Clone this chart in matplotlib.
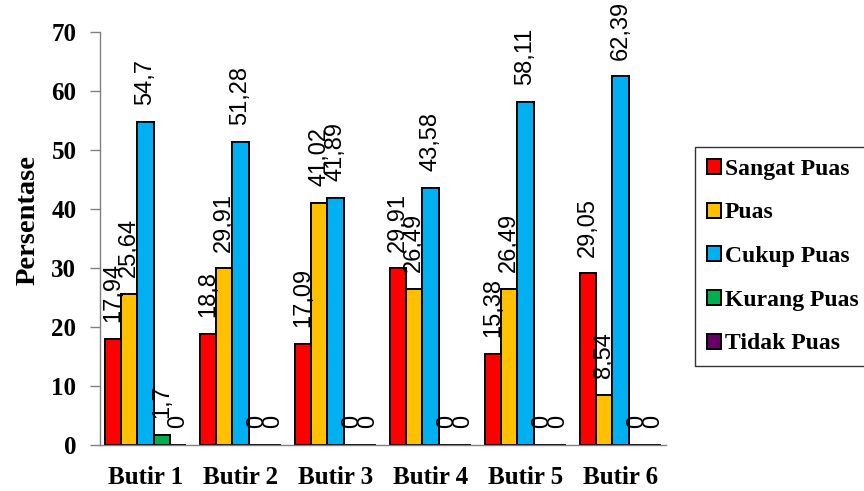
import numpy as np
import matplotlib
matplotlib.use("Agg")
import matplotlib.pyplot as plt

categories = ["Butir 1", "Butir 2", "Butir 3", "Butir 4", "Butir 5", "Butir 6"]
series_names = ["Sangat Puas", "Puas", "Cukup Puas", "Kurang Puas", "Tidak Puas"]
sangat_puas = [17.94, 18.8, 17.09, 29.91, 15.38, 29.05]
puas = [25.64, 29.91, 41.02, 26.49, 26.49, 8.54]
cukup_puas = [54.7, 51.28, 41.89, 43.58, 58.11, 62.39]
kurang_puas = [1.7, 0, 0, 0, 0, 0]
tidak_puas = [0, 0, 0, 0, 0, 0]
y_ticks = [0, 10, 20, 30, 40, 50, 60, 70]

colors = ["#FF0000", "#FFC000", "#00B0F0", "#00B050", "#660066"]
serif = "Liberation Serif"
label_font = ["Liberation Sans Narrow", "Liberation Sans"]


def fmt_value(v):
  # decimal comma, as in the original Indonesian report
  return f"{v:g}".replace(".", ",")


def main():
  fig = plt.figure(figsize=(8.64, 4.91), dpi=100)
  ax = fig.add_axes([100 / 864, 46 / 491, 566 / 864, 413.5 / 491])

  x = np.arange(len(categories))
  width = 0.1716
  all_series = [sangat_puas, puas, cukup_puas, kurang_puas, tidak_puas]

  for i, (name, vals, col) in enumerate(zip(series_names, all_series, colors)):
    pos = x + (i - 2) * width
    bars = ax.bar(pos, vals, width, color=col, edgecolor="black",
                  linewidth=1.4, label=name)
    for b, v in zip(bars, vals):
      ax.annotate(fmt_value(v), (b.get_x() + b.get_width() / 2, v),
                  xytext=(0, 12), textcoords="offset points",
                  rotation=90, ha="center", va="bottom",
                  fontsize=17, family=label_font, color="black")

  ax.set_xlim(-0.479, 5.479)
  ax.set_ylim(0, 70)
  ax.set_yticks(y_ticks)
  ax.set_yticklabels([str(t) for t in y_ticks], family=serif,
                     fontweight="bold", fontsize=18)
  ax.set_xticks(x)
  ax.set_xticklabels(categories, family=serif, fontweight="bold",
                     fontsize=18)
  ax.tick_params(axis="x", length=0, pad=15)
  ax.tick_params(axis="y", length=7, width=1, color="#808080",
                 direction="out", pad=10)

  for side in ["top", "right"]:
    ax.spines[side].set_visible(False)
  for side in ["left", "bottom"]:
    ax.spines[side].set_color("#808080")
    ax.spines[side].set_linewidth(1.0)

  ax.set_ylabel("Persentase", family=serif, fontweight="bold", fontsize=20.5)
  ax.yaxis.set_label_coords(-0.105, 0.544)

  leg = fig.legend(loc="upper left", bbox_to_anchor=(695 / 864, 1 - 147 / 491),
                   prop={"family": serif, "weight": "bold", "size": 17},
                   frameon=True, fancybox=False, edgecolor="black",
                   handlelength=0.6, handleheight=0.6, handletextpad=0.15,
                   labelspacing=0.96, borderpad=0.5, borderaxespad=0)
  leg.get_frame().set_linewidth(1.0)
  for h in leg.legend_handles:
    h.set_linewidth(1.4)

  fig.savefig("out.png", dpi=100)


if __name__ == "__main__":
  main()
